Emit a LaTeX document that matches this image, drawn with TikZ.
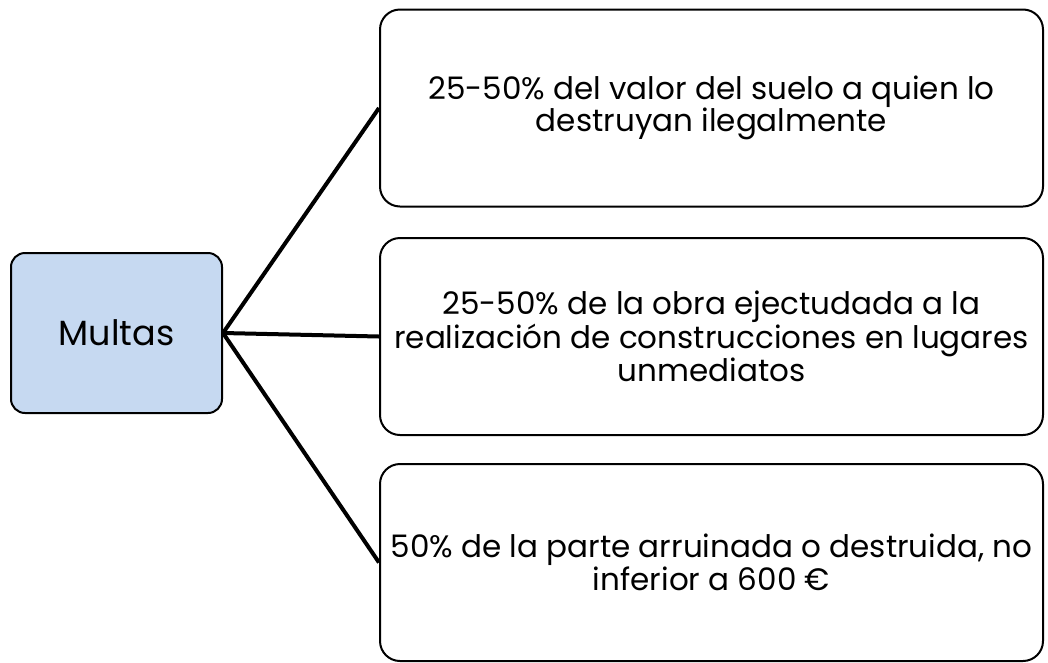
\documentclass[tikz,border=0pt]{standalone}
\usepackage{fontspec}
\setmainfont{Poppins}
\usetikzlibrary{calc}

\definecolor{multablue}{RGB}{198,217,241}
\tikzset{
    hub/.style={draw=black, line width=2pt, rounded corners=14pt, fill=multablue,
        minimum width=211pt, minimum height=160pt, inner sep=0pt,
        font=\fontsize{35}{40}\selectfont},
    leaf/.style={draw=black, line width=2pt, rounded corners=20pt,
        minimum width=663pt, minimum height=197pt, inner sep=0pt,
        align=center, font=\fontsize{31}{31.5}\selectfont},
    branch/.style={line width=4pt}
}

\begin{document}
\begin{tikzpicture}[x=1pt,y=-1pt]
        \useasboundingbox (0,0) rectangle (1048,662);

        % Draw central node
        \node[hub] (multas) at (116.5,333) {Multas};

        % Draw the three fines
        \node[leaf] (suelo) at (711.5,108) {25-50\% del valor del suelo a quien lo\\destruyan ilegalmente};
        \node[leaf] (obra) at (711.5,336.5) {25-50\% de la obra ejectudada a la\\realización de construcciones en lugares\\unmediatos};
        \node[leaf] (parte) at (711.5,562.5) {50\% de la parte arruinada o destruida, no\\inferior a 600 €};

        % Connect the fines to the centre
        \foreach \n in {suelo, obra, parte} {
            \draw[branch] (multas.east) -- (\n.west);
        }
    \end{tikzpicture}
\end{document}
